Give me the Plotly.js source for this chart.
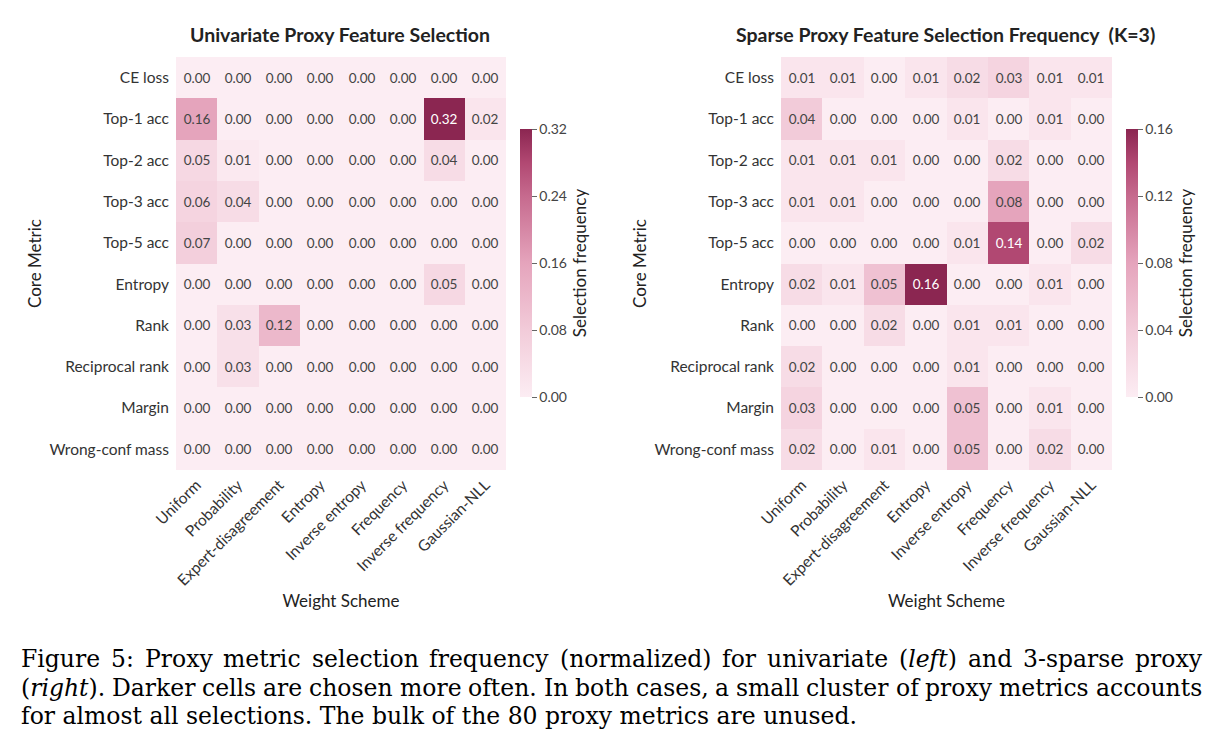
<!DOCTYPE html>
<html>
<head>
<meta charset="utf-8">
<script src="https://cdn.plot.ly/plotly-3.0.1.min.js"></script>
<style>html,body{margin:0;padding:0;background:#fff;}#chart{width:1222px;height:750px;}</style>
</head>
<body>
<div id="chart"></div>
<script>
const weightSchemes = ["Uniform","Probability","Expert-disagreement","Entropy","Inverse entropy","Frequency","Inverse frequency","Gaussian-NLL"];
const coreMetrics = ["CE loss","Top-1 acc","Top-2 acc","Top-3 acc","Top-5 acc","Entropy","Rank","Reciprocal rank","Margin","Wrong-conf mass"];

const univariateFreq = [
  [0.00,0.00,0.00,0.00,0.00,0.00,0.00,0.00],
  [0.16,0.00,0.00,0.00,0.00,0.00,0.32,0.02],
  [0.05,0.01,0.00,0.00,0.00,0.00,0.04,0.00],
  [0.06,0.04,0.00,0.00,0.00,0.00,0.00,0.00],
  [0.07,0.00,0.00,0.00,0.00,0.00,0.00,0.00],
  [0.00,0.00,0.00,0.00,0.00,0.00,0.05,0.00],
  [0.00,0.03,0.12,0.00,0.00,0.00,0.00,0.00],
  [0.00,0.03,0.00,0.00,0.00,0.00,0.00,0.00],
  [0.00,0.00,0.00,0.00,0.00,0.00,0.00,0.00],
  [0.00,0.00,0.00,0.00,0.00,0.00,0.00,0.00]
];

const sparseFreq = [
  [0.01,0.01,0.00,0.01,0.02,0.03,0.01,0.01],
  [0.04,0.00,0.00,0.00,0.01,0.00,0.01,0.00],
  [0.01,0.01,0.01,0.00,0.00,0.02,0.00,0.00],
  [0.01,0.01,0.00,0.00,0.00,0.08,0.00,0.00],
  [0.00,0.00,0.00,0.00,0.01,0.14,0.00,0.02],
  [0.02,0.01,0.05,0.16,0.00,0.00,0.01,0.00],
  [0.00,0.00,0.02,0.00,0.01,0.01,0.00,0.00],
  [0.02,0.00,0.00,0.00,0.01,0.00,0.00,0.00],
  [0.03,0.00,0.00,0.00,0.05,0.00,0.01,0.00],
  [0.02,0.00,0.01,0.00,0.05,0.00,0.02,0.00]
];

const leftTicks = [0.00,0.08,0.16,0.24,0.32];
const rightTicks = [0.00,0.04,0.08,0.12,0.16];

const captionLines = [
  "Figure 5: Proxy metric selection frequency (normalized) for univariate (<i>left</i>) and 3-sparse proxy",
  "(<i>right</i>). Darker cells are chosen more often. In both cases, a small cluster of proxy metrics accounts",
  "for almost all selections. The bulk of the 80 proxy metrics are unused."
];

const W = 1222, H = 750;
const px = v => v / W;
const py = v => 1 - v / H;

const cscale = [
  [0.0,'#fcedf3'],
  [0.25,'#f2cbd9'],
  [0.5,'#e5a4bc'],
  [0.75,'#c66a8e'],
  [0.875,'#b14872'],
  [1.0,'#8b2651']
];

const FONT = 'Lato, "Open Sans", sans-serif';
const SERIF = '"DejaVu Serif", "Liberation Serif", serif';

function hm(z, xa, ya, ca) {
  return {
    type: 'heatmap', z: z, x: weightSchemes, y: coreMetrics,
    xaxis: xa, yaxis: ya, coloraxis: ca,
    texttemplate: '%{z:.2f}', textfont: {family: FONT, size: 13.5},
    xgap: 0, ygap: 0, hoverongaps: false
  };
}

function cbar(x, ticks, maxv) {
  return {
    cmin: 0, cmax: maxv, colorscale: cscale,
    colorbar: {
      x: px(x), xanchor: 'left', xpad: 0, ypad: 0,
      y: py(263), yanchor: 'middle', len: (397-129)/H, lenmode: 'fraction',
      thickness: 12, outlinewidth: 0,
      tickvals: ticks, tickformat: '.2f', ticks: 'outside', ticklen: 5, tickcolor: '#666',
      ticklabelstandoff: 3,
      tickfont: {family: FONT, size: 14, color: '#444'},
      title: {text: 'Selection frequency', side: 'right', font: {family: FONT, size: 17, color: '#222'}}
    }
  };
}

function xax(d0, d1, anchor) {
  return {
    domain: [px(d0), px(d1)], anchor: anchor, tickangle: -45,
    tickfont: {family: FONT, size: 15.5, color: '#333'}, ticks: '', showgrid: false, zeroline: false,
    automargin: false, ticklabelstandoff: 2,
    title: {text: 'Weight Scheme', font: {family: FONT, size: 17, color: '#222'}, standoff: 7}
  };
}
function yax(anchor) {
  return {
    domain: [py(470), py(57)], anchor: anchor, autorange: 'reversed',
    tickfont: {family: FONT, size: 15.5, color: '#333'}, ticks: '', showgrid: false, zeroline: false,
    automargin: false, ticklabelstandoff: 6,
    title: {text: 'Core Metric', font: {family: FONT, size: 17, color: '#222'}, standoff: 3}
  };
}

const annotations = [
  {text: '<b>Univariate Proxy Feature Selection</b>', xref: 'paper', yref: 'paper', x: px(340), xanchor: 'center', y: py(35), yanchor: 'middle', showarrow: false, font: {family: FONT, size: 19.5, color: '#222'}},
  {text: '<b>Sparse Proxy Feature Selection Frequency  (K=3)</b>', xref: 'paper', yref: 'paper', x: px(946), xanchor: 'center', y: py(35), yanchor: 'middle', showarrow: false, font: {family: FONT, size: 19.5, color: '#222'}}
];

// Caption: justified lines (except last), words placed via measured widths
const CAP_SIZE = 23.5, CAP_LEFT = 20, CAP_RIGHT = 1201, CAP_TOP = 659, CAP_STEP = 28.5;
const ctx = document.createElement('canvas').getContext('2d');
function measure(word) {
  const parts = word.split(/(<i>|<\/i>)/);
  let italic = false, w = 0;
  parts.forEach(p => {
    if (p === '<i>') { italic = true; return; }
    if (p === '</i>') { italic = false; return; }
    ctx.font = (italic ? 'italic ' : '') + CAP_SIZE + 'px ' + SERIF;
    w += ctx.measureText(p).width;
  });
  return w;
}
captionLines.forEach((line, i) => {
  const y = py(CAP_TOP + i * CAP_STEP);
  const font = {family: SERIF, size: CAP_SIZE, color: '#000'};
  if (i === captionLines.length - 1) {
    annotations.push({text: line, xref: 'paper', yref: 'paper', x: px(CAP_LEFT), xanchor: 'left', y: y, yanchor: 'middle', showarrow: false, borderpad: 0, font: font});
    return;
  }
  const words = line.split(' ');
  const widths = words.map(measure);
  const total = widths.reduce((a, b) => a + b, 0);
  const gap = (CAP_RIGHT - CAP_LEFT - total) / (words.length - 1);
  let x = CAP_LEFT;
  words.forEach((wd, k) => {
    annotations.push({text: wd, xref: 'paper', yref: 'paper', x: px(x), xanchor: 'left', y: y, yanchor: 'middle', showarrow: false, borderpad: 0, font: font});
    x += widths[k] + gap;
  });
});

const layout = {
  width: W, height: H, margin: {l: 0, r: 0, t: 0, b: 0},
  paper_bgcolor: '#fff', plot_bgcolor: '#fff',
  xaxis: xax(176, 506, 'y'), yaxis: yax('x'),
  xaxis2: xax(781, 1112, 'y2'), yaxis2: yax('x2'),
  coloraxis: cbar(520, leftTicks, 0.32),
  coloraxis2: cbar(1126, rightTicks, 0.16),
  annotations: annotations, showlegend: false
};

Plotly.newPlot('chart', [hm(univariateFreq, 'x', 'y', 'coloraxis'), hm(sparseFreq, 'x2', 'y2', 'coloraxis2')], layout, {staticPlot: true});
</script>
</body>
</html>
